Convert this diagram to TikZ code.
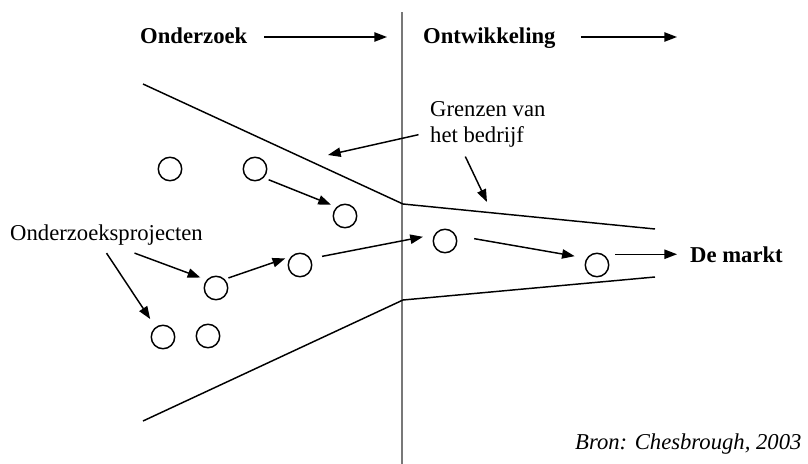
\documentclass[tikz,border=0pt]{standalone}
\usepackage{fontspec}
\setmainfont{Liberation Serif}
\usetikzlibrary{arrows.meta}
\definecolor{divgray}{RGB}{120,120,120}
\begin{document}
\begin{tikzpicture}[x=0.75pt,y=-0.75pt,
  line/.style={line width=1.1pt},
  arr/.style={line width=1.1pt,-{Triangle[length=9.5pt,width=7pt]}},
  proj/.style={circle,draw,line width=1.1pt,minimum size=17.6pt,inner sep=0pt},
  lbl/.style={font=\fontsize{17}{19.5}\selectfont,inner sep=2pt,anchor=base west},
  head/.style={lbl,font=\fontsize{17}{19.5}\selectfont\bfseries},
  divider/.style={line width=1.8pt,draw=divgray}]
\useasboundingbox (0,0) rectangle (808,464);

% phase divider
\draw[divider] (402,12) -- (402,464);

% company boundaries (funnel)
\draw[line] (143,84) -- (403,204) -- (655,229);
\draw[line] (143,421) -- (403,300) -- (655,277);

% headings
\node[head] (ond) at (137.3,43) {Onderzoek};
\node[head] (ontw) at (420.3,43) {Ontwikkeling};
\coordinate (t1) at (387,37);
\coordinate (t2) at (677,37);
\draw[arr, shorten <=10.7pt] (ond.east |- t1) -- (t1);
\draw[arr, shorten <=16.8pt] (ontw.east |- t2) -- (t2);

% labels
\node[lbl, anchor=west, align=left] (gren) at (427.3,124.7) {Grenzen van\\het bedrijf};
\node[lbl] (lab) at (7.3,240) {Onderzoeksprojecten};
\node[head] (market) at (687.3,262) {De markt};
\node[lbl, font=\fontsize{17}{19.5}\selectfont\itshape] (bron) at (572.3,449) {Bron: Chesbrough, 2003};

% research projects
\node[proj] (c1) at (170,169) {};
\node[proj] (c2) at (255,169) {};
\node[proj] (c3) at (345,216) {};
\node[proj] (c4) at (300,265) {};
\node[proj] (c5) at (216,288) {};
\node[proj] (c6) at (163,337) {};
\node[proj] (c7) at (208,336) {};
\node[proj] (c8) at (445,241) {};
\node[proj] (c9) at (597,265) {};

% project flow
\draw[arr, shorten <=3.9pt, shorten >=4.5pt] (c2.-45) -- (c3.133);
\draw[arr, shorten <=2.9pt, shorten >=4.5pt] (c5.45) -- (c4.137);
\draw[arr, shorten <=8.7pt, shorten >=8.7pt] (c4.31) -- (c8.149);
\draw[arr, shorten <=13.7pt, shorten >=9pt] (c8.26) -- (c9.147);
\draw[arr, shorten <=4.2pt, shorten >=7.7pt] (market.west -| c9.east) -- (market.west);

% label pointers
\coordinate (ga) at (328,155);
\coordinate (gb) at (487,202);
\draw[arr, shorten <=6.75pt] ([yshift=-6pt]gren.west) -- (ga);
\draw[arr, shorten <=5pt] ([xshift=-19pt]gren.south) -- (gb);
\draw[arr, shorten >=5pt] ([xshift=21pt,yshift=-4pt]lab.south) -- (c5.139);
\draw[arr, shorten >=7.2pt] ([yshift=-4pt]lab.south) -- (c6.127);
\end{tikzpicture}
\end{document}
